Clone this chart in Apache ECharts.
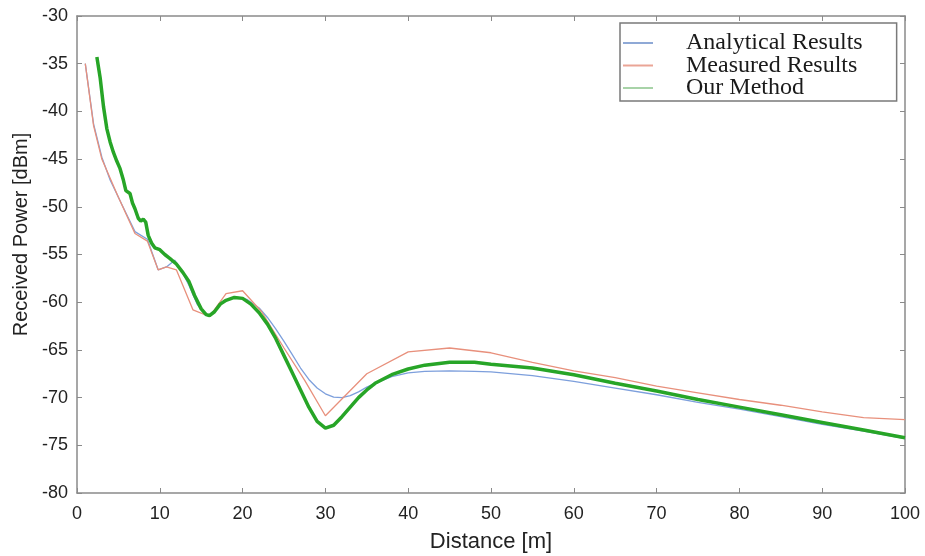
<!DOCTYPE html>
<html>
<head>
<meta charset="utf-8">
<script src="https://cdn.jsdelivr.net/npm/echarts@6/dist/echarts.min.js"></script>
<style>
  html, body { margin: 0; padding: 0; background: #ffffff; }
  #chart { width: 925px; height: 556px; }
</style>
</head>
<body>
<div id="chart"></div>
<script>
// Received power versus distance
const analyticalDistance = [1, 2, 3, 4, 5, 6, 7, 8.5, 9.8, 10.8, 11.8, 12.5, 13.5, 14.5, 15.5, 16, 16.8, 17.5, 18.5, 19.5, 20.5, 22, 23, 24, 25, 26, 27, 28, 29, 30, 31, 32, 33, 34, 35, 36, 38, 40, 42, 45, 48, 50, 55, 60, 65, 70, 75, 80, 85, 90, 95, 100];
const analyticalPower = [-35, -41.3, -44.8, -47.2, -49, -50.8, -52.6, -53.4, -56.6, -56.3, -55.6, -56.5, -58.2, -60.2, -61.3, -61.4, -60.8, -60.0, -59.6, -59.5, -59.7, -60.6, -61.6, -62.8, -64.1, -65.5, -66.9, -68.1, -69.0, -69.6, -69.95, -70.0, -69.8, -69.4, -68.9, -68.5, -67.8, -67.4, -67.25, -67.2, -67.25, -67.3, -67.7, -68.3, -69.0, -69.7, -70.5, -71.2, -72.0, -72.8, -73.5, -74.3];

const measuredDistance = [1, 2, 3, 5, 7, 8.5, 9.8, 10.8, 12, 14, 16, 18, 20, 22.3, 25, 27.5, 30, 35, 40, 45, 50, 55, 60, 65, 70, 75, 80, 85, 90, 95, 100];
const measuredPower = [-35, -41.5, -45, -49, -52.8, -53.6, -56.6, -56.3, -56.6, -60.8, -61.5, -59.1, -58.8, -61, -64.8, -68.2, -71.9, -67.5, -65.2, -64.8, -65.3, -66.3, -67.2, -67.9, -68.8, -69.5, -70.2, -70.8, -71.5, -72.1, -72.3];

const methodDistance = [2.4, 2.8, 3.2, 3.6, 4.0, 4.4, 4.8, 5.2, 5.6, 5.9, 6.1, 6.4, 6.7, 7.0, 7.4, 7.7, 8.0, 8.3, 8.6, 9.0, 9.4, 10.0, 10.6, 11.2, 12.0, 12.8, 13.5, 14.2, 15.0, 15.6, 16.0, 16.6, 17.3, 18.0, 19.0, 20.0, 21.0, 22.0, 23.0, 24.0, 25.0, 26.0, 27.0, 28.0, 29.0, 30.0, 31.0, 32.0, 33.0, 34.0, 35.0, 36.0, 38.0, 40.0, 42.0, 45.0, 48.0, 50.0, 55.0, 60.0, 65.0, 70.0, 75.0, 80.0, 85.0, 90.0, 95.0, 100.0];
const methodPower = [-34.3, -36.5, -39.5, -41.8, -43.2, -44.3, -45.2, -46.0, -47.2, -48.3, -48.1, -48.6, -49.6, -50.2, -51.2, -51.5, -51.3, -51.6, -53.0, -53.8, -54.3, -54.5, -55.0, -55.4, -56.0, -56.9, -57.8, -59.3, -60.7, -61.3, -61.4, -61.0, -60.2, -59.8, -59.5, -59.6, -60.2, -61.1, -62.3, -63.8, -65.6, -67.4, -69.2, -71.0, -72.5, -73.2, -72.9, -72.0, -71.0, -70.0, -69.2, -68.5, -67.6, -67.0, -66.6, -66.3, -66.3, -66.5, -66.9, -67.6, -68.5, -69.3, -70.2, -71.0, -71.8, -72.6, -73.4, -74.2];

const seriesNames = ['Analytical Results', 'Measured Results', 'Our Method'];

const pairs = (xs, ys) => xs.map((x, i) => [x, ys[i]]);

const frameColor = '#8a8a8a';
const labelFont = { fontFamily: 'Liberation Sans, Arial, sans-serif', fontSize: 18, color: '#222222' };

const baseX = {
  type: 'value', min: 0, max: 100, interval: 10,
  splitLine: { show: false },
  axisLine: { show: true, onZero: false, lineStyle: { color: frameColor, width: 1.5 } },
  axisTick: { show: true, inside: true, length: 5, lineStyle: { color: frameColor } }
};
const baseY = {
  type: 'value', min: -80, max: -30, interval: 5,
  splitLine: { show: false },
  axisLine: { show: true, onZero: false, lineStyle: { color: frameColor, width: 1.5 } },
  axisTick: { show: true, inside: true, length: 5, lineStyle: { color: frameColor } }
};

const chart = echarts.init(document.getElementById('chart'), null, { renderer: 'canvas' });
chart.setOption({
  backgroundColor: '#ffffff',
  animation: false,
  grid: { left: 77, top: 16, right: 20, bottom: 63, containLabel: false, outerBoundsMode: 'none' },
  xAxis: [
    Object.assign({}, baseX, {
      position: 'bottom',
      name: 'Distance [m]',
      nameLocation: 'middle',
      nameGap: 38,
      nameTextStyle: { fontFamily: 'Liberation Sans, Arial, sans-serif', fontSize: 22, color: '#222222' },
      axisLabel: Object.assign({ margin: 12 }, labelFont)
    }),
    Object.assign({}, baseX, { position: 'top', axisLabel: { show: false } })
  ],
  yAxis: [
    Object.assign({}, baseY, {
      position: 'left',
      name: 'Received Power [dBm]',
      nameLocation: 'middle',
      nameGap: 45,
      nameRotate: 90,
      nameTextStyle: { fontFamily: 'Liberation Sans, Arial, sans-serif', fontSize: 20, color: '#222222', padding: [0, 0, 0, 40] },
      axisLabel: Object.assign({ margin: 9 }, labelFont)
    }),
    Object.assign({}, baseY, { position: 'right', axisLabel: { show: false } })
  ],
  legend: {
    orient: 'vertical',
    left: 620,
    top: 23,
    padding: [8, 34, 1, 3],
    itemWidth: 30,
    itemHeight: 2,
    itemGap: -1.5,
    icon: 'rect',
    backgroundColor: '#ffffff',
    borderColor: '#7a7a7a',
    borderWidth: 1.5,
    textStyle: {
      fontFamily: 'Liberation Serif, Times New Roman, serif',
      fontSize: 24,
      color: '#1a1a1a',
      lineHeight: 22,
      padding: [0, 0, 0, 28]
    },
    data: [
      { name: seriesNames[0], itemStyle: { color: '#8fa9d6' } },
      { name: seriesNames[1], itemStyle: { color: '#eaa596' } },
      { name: seriesNames[2], itemStyle: { color: '#a8d3a8' } }
    ]
  },
  series: [
    {
      name: seriesNames[0], type: 'line', data: pairs(analyticalDistance, analyticalPower),
      showSymbol: false, smooth: false, z: 2,
      lineStyle: { color: '#7d9fdc', width: 1.3 }, itemStyle: { color: '#7d9fdc' }
    },
    {
      name: seriesNames[1], type: 'line', data: pairs(measuredDistance, measuredPower),
      showSymbol: false, smooth: false, z: 3,
      lineStyle: { color: '#e8907c', width: 1.3 }, itemStyle: { color: '#e8907c' }
    },
    {
      name: seriesNames[2], type: 'line', data: pairs(methodDistance, methodPower),
      showSymbol: false, smooth: false, z: 4,
      lineStyle: { color: '#27a527', width: 3.5 }, itemStyle: { color: '#27a527' }
    }
  ]
});
</script>
</body>
</html>
